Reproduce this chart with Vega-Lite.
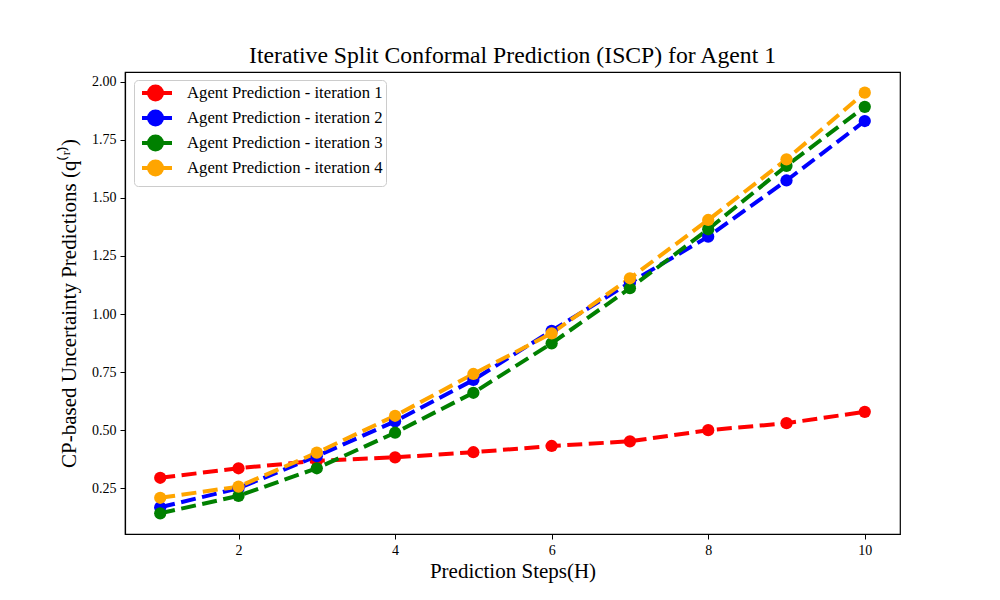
{
  "$schema": "https://vega.github.io/schema/vega-lite/v6.json",
  "width": 775,
  "height": 462,
  "autosize": {"type": "none"},
  "padding": {"left": 125, "top": 72, "right": 100, "bottom": 66},
  "background": "white",
  "config": {
    "font": "Liberation Serif",
    "view": {"stroke": "black", "strokeWidth": 1.2},
    "axis": {
      "grid": false,
      "domainColor": "black",
      "domainWidth": 1.2,
      "tickColor": "black",
      "tickSize": 5,
      "tickWidth": 1,
      "labelFont": "Liberation Serif",
      "labelFontSize": 14,
      "labelColor": "black",
      "titleFont": "Liberation Serif",
      "titleFontSize": 21,
      "titleFontWeight": "normal",
      "titleColor": "black"
    }
  },
  "title": {
    "text": "Iterative Split Conformal Prediction (ISCP) for Agent 1",
    "font": "Liberation Serif",
    "fontSize": 23.7,
    "fontWeight": "normal",
    "color": "black",
    "anchor": "middle",
    "offset": 4
  },
  "data": {
    "values": [
      {"step": 1, "series": "Agent Prediction - iteration 1", "q": 0.295},
      {"step": 2, "series": "Agent Prediction - iteration 1", "q": 0.336},
      {"step": 3, "series": "Agent Prediction - iteration 1", "q": 0.368},
      {"step": 4, "series": "Agent Prediction - iteration 1", "q": 0.383},
      {"step": 5, "series": "Agent Prediction - iteration 1", "q": 0.405},
      {"step": 6, "series": "Agent Prediction - iteration 1", "q": 0.432},
      {"step": 7, "series": "Agent Prediction - iteration 1", "q": 0.452},
      {"step": 8, "series": "Agent Prediction - iteration 1", "q": 0.500},
      {"step": 9, "series": "Agent Prediction - iteration 1", "q": 0.530},
      {"step": 10, "series": "Agent Prediction - iteration 1", "q": 0.579},
      {"step": 1, "series": "Agent Prediction - iteration 2", "q": 0.168},
      {"step": 2, "series": "Agent Prediction - iteration 2", "q": 0.250},
      {"step": 3, "series": "Agent Prediction - iteration 2", "q": 0.388},
      {"step": 4, "series": "Agent Prediction - iteration 2", "q": 0.538},
      {"step": 5, "series": "Agent Prediction - iteration 2", "q": 0.716},
      {"step": 6, "series": "Agent Prediction - iteration 2", "q": 0.928},
      {"step": 7, "series": "Agent Prediction - iteration 2", "q": 1.135},
      {"step": 8, "series": "Agent Prediction - iteration 2", "q": 1.333},
      {"step": 9, "series": "Agent Prediction - iteration 2", "q": 1.575},
      {"step": 10, "series": "Agent Prediction - iteration 2", "q": 1.831},
      {"step": 1, "series": "Agent Prediction - iteration 3", "q": 0.142},
      {"step": 2, "series": "Agent Prediction - iteration 3", "q": 0.217},
      {"step": 3, "series": "Agent Prediction - iteration 3", "q": 0.336},
      {"step": 4, "series": "Agent Prediction - iteration 3", "q": 0.489},
      {"step": 5, "series": "Agent Prediction - iteration 3", "q": 0.661},
      {"step": 6, "series": "Agent Prediction - iteration 3", "q": 0.874},
      {"step": 7, "series": "Agent Prediction - iteration 3", "q": 1.111},
      {"step": 8, "series": "Agent Prediction - iteration 3", "q": 1.365},
      {"step": 9, "series": "Agent Prediction - iteration 3", "q": 1.638},
      {"step": 10, "series": "Agent Prediction - iteration 3", "q": 1.892},
      {"step": 1, "series": "Agent Prediction - iteration 4", "q": 0.209},
      {"step": 2, "series": "Agent Prediction - iteration 4", "q": 0.257},
      {"step": 3, "series": "Agent Prediction - iteration 4", "q": 0.403},
      {"step": 4, "series": "Agent Prediction - iteration 4", "q": 0.562},
      {"step": 5, "series": "Agent Prediction - iteration 4", "q": 0.742},
      {"step": 6, "series": "Agent Prediction - iteration 4", "q": 0.917},
      {"step": 7, "series": "Agent Prediction - iteration 4", "q": 1.154},
      {"step": 8, "series": "Agent Prediction - iteration 4", "q": 1.405},
      {"step": 9, "series": "Agent Prediction - iteration 4", "q": 1.666},
      {"step": 10, "series": "Agent Prediction - iteration 4", "q": 1.953}
    ]
  },
  "mark": {
    "type": "line",
    "strokeWidth": 4,
    "strokeDash": [15, 6.5],
    "point": {"filled": true, "size": 150, "opacity": 1}
  },
  "encoding": {
    "x": {
      "field": "step",
      "type": "quantitative",
      "scale": {"domain": [0.55, 10.45], "nice": false, "zero": false},
      "axis": {"values": [2, 4, 6, 8, 10], "title": "Prediction Steps(H)", "titlePadding": 3, "labelPadding": 4}
    },
    "y": {
      "field": "q",
      "type": "quantitative",
      "scale": {"domain": [0.053, 2.042], "nice": false, "zero": false},
      "axis": {"values": [0.25, 0.5, 0.75, 1.0, 1.25, 1.5, 1.75, 2.0], "format": ".2f", "title": "CP-based Uncertainty Predictions (q⁽ʳ⁾)", "titlePadding": 12, "labelPadding": 4}
    },
    "color": {
      "field": "series",
      "type": "nominal",
      "scale": {"range": ["#ff0000", "#0000ff", "#008000", "#ffa500"]},
      "legend": {
        "title": null,
        "orient": "none",
        "legendX": 9,
        "legendY": 8,
        "padding": 3,
        "fillColor": "white",
        "strokeColor": "#cccccc",
        "cornerRadius": 4,
        "symbolType": "M-0.625,0L3.125,0M1.875,0A0.8125,0.8125,0,1,1,0.25,0A0.8125,0.8125,0,1,1,1.875,0Z",
        "symbolSize": 256,
        "symbolStrokeWidth": 4,
        "symbolDash": [100, 0],
        "symbolOpacity": 1,
        "labelFont": "Liberation Serif",
        "labelFontSize": 16.7,
        "labelColor": "black",
        "labelOffset": 30,
        "rowPadding": -5.4,
        "labelLimit": 400,
        "encode": {
          "symbols": {
            "update": {
              "fill": {"scale": "color", "field": "value"},
              "stroke": {"scale": "color", "field": "value"}
            }
          }
        }
      }
    }
  }
}
